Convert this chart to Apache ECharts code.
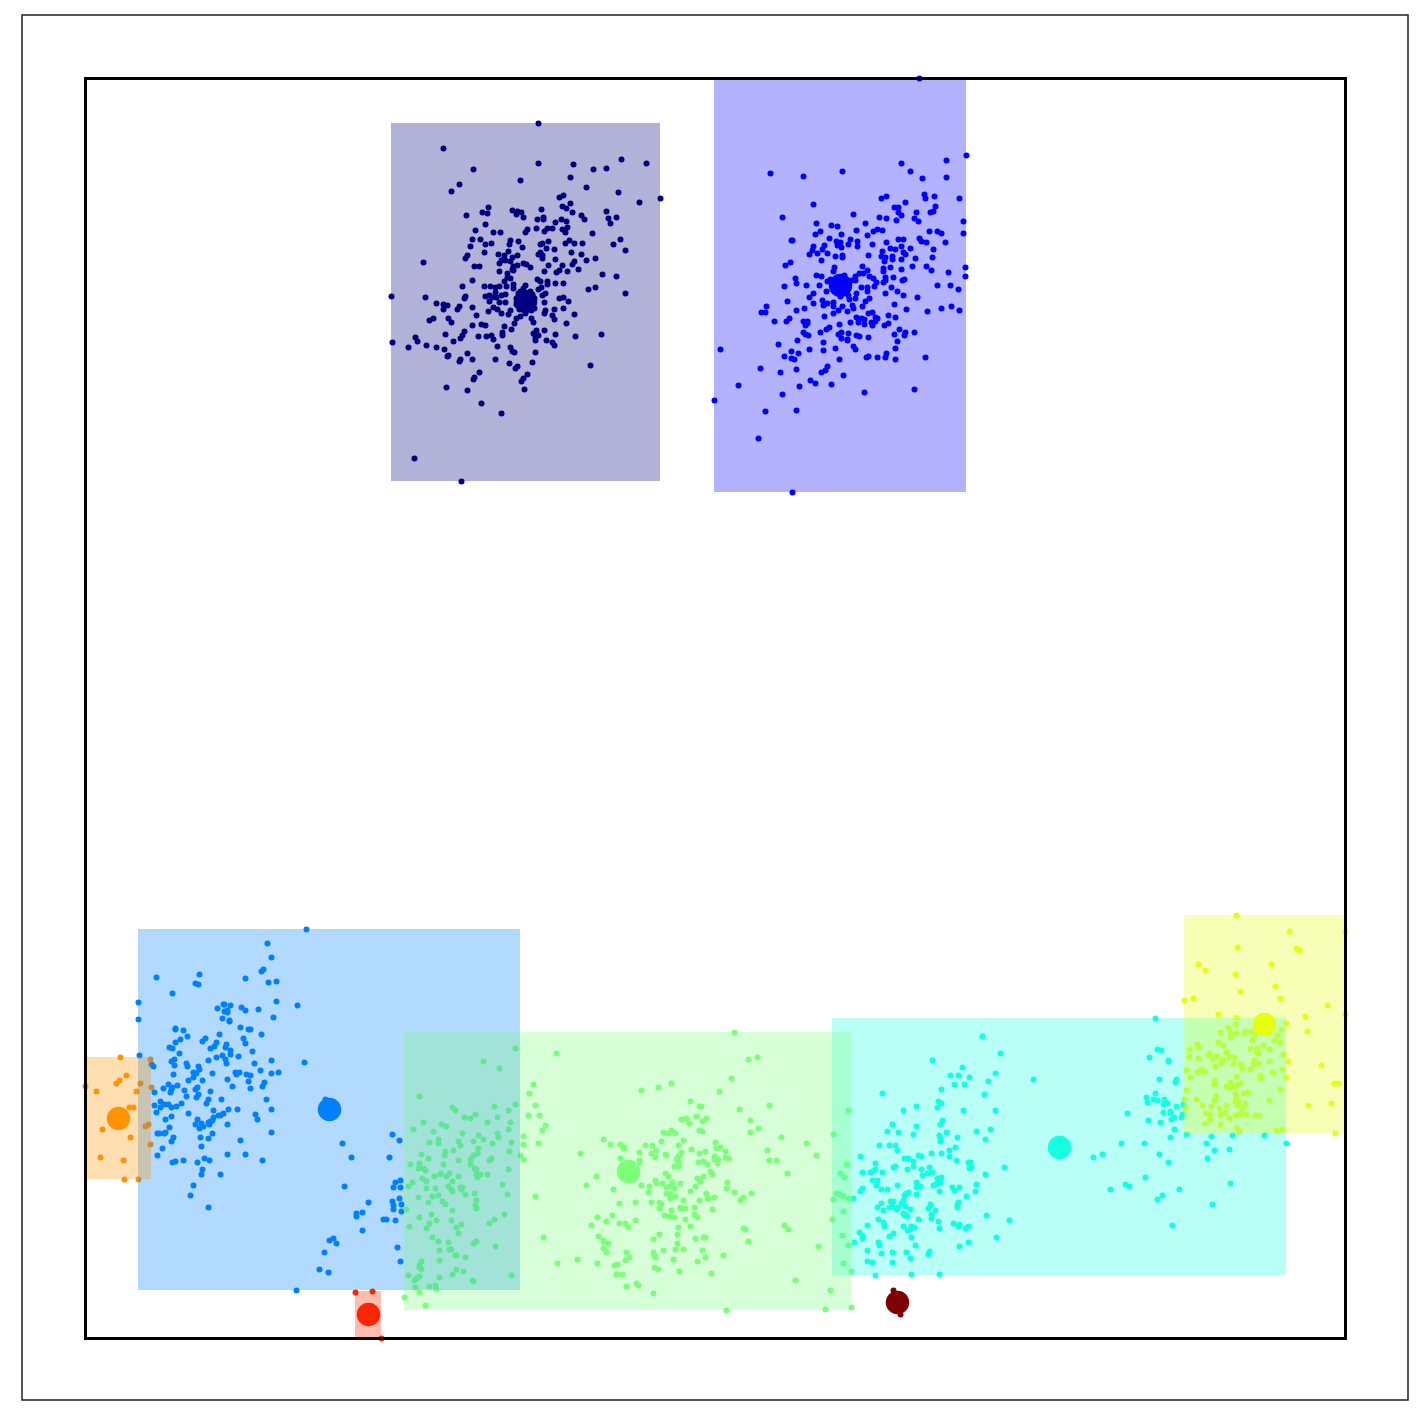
<!DOCTYPE html>
<html>
<head>
<meta charset="utf-8">
<script src="https://cdn.jsdelivr.net/npm/echarts@6/dist/echarts.min.js"></script>
<style>
  html, body { margin: 0; background: #fff; }
  #main { width: 1423px; height: 1423px; }
</style>
</head>
<body>
<div id="main"></div>
<script>
// values, the axes have no ticks so units are the picture's own
const navyPoints = [[538,123],[443,148],[473,169],[538,163],[573,164],[593,169],[606,168],[621,159],[646,163],[520,180],[570,177],[459,184],[451,191],[586,187],[618,192],[660,198],[639,202],[559,197],[563,195],[570,203],[562,206],[566,208],[572,212],[541,209],[488,207],[482,212],[487,213],[466,215],[512,210],[517,211],[521,212],[516,214],[523,217],[537,219],[543,217],[543,219],[606,211],[581,215],[584,219],[608,218],[616,217],[610,223],[561,219],[566,221],[555,222],[485,224],[567,227],[562,229],[565,232],[536,228],[547,228],[552,228],[544,231],[527,229],[525,232],[475,230],[493,232],[500,232],[592,233],[472,239],[480,239],[510,240],[518,241],[569,240],[620,239],[485,244],[491,243],[509,244],[540,244],[542,243],[548,241],[565,243],[574,243],[582,243],[613,244],[470,246],[522,247],[546,248],[554,249],[625,250],[484,252],[508,251],[498,254],[504,255],[517,255],[540,252],[538,254],[542,255],[571,252],[581,254],[467,255],[465,258],[512,257],[503,259],[501,260],[505,260],[499,263],[510,261],[542,258],[555,259],[586,260],[595,258],[423,262],[474,266],[479,266],[523,263],[526,264],[530,267],[517,265],[513,266],[512,269],[548,265],[562,265],[574,261],[572,264],[578,269],[499,271],[507,273],[513,270],[544,271],[556,272],[559,270],[567,271],[602,274],[616,276],[507,277],[510,278],[472,280],[504,281],[537,279],[540,281],[547,281],[555,283],[563,283],[547,284],[462,286],[484,286],[490,286],[495,287],[499,286],[506,286],[513,284],[513,288],[541,287],[538,289],[588,289],[595,287],[625,293],[495,292],[505,294],[485,296],[489,295],[492,297],[496,297],[501,295],[545,293],[542,295],[559,298],[563,297],[568,301],[391,296],[425,297],[465,296],[464,298],[436,303],[443,304],[447,305],[443,309],[459,306],[457,309],[472,307],[489,301],[499,302],[505,302],[544,302],[493,307],[497,309],[488,311],[501,313],[510,310],[508,314],[554,309],[563,308],[545,310],[544,313],[552,315],[554,319],[574,314],[476,315],[433,318],[429,320],[448,318],[451,322],[516,318],[520,316],[531,318],[533,322],[514,323],[566,323],[472,325],[481,324],[485,325],[504,326],[511,329],[536,330],[544,330],[464,331],[445,334],[462,335],[460,338],[478,336],[486,336],[491,335],[493,339],[502,332],[502,335],[533,333],[538,335],[535,337],[535,340],[555,334],[575,336],[601,334],[415,337],[417,341],[392,342],[453,341],[546,340],[552,342],[554,345],[408,347],[426,345],[436,347],[444,349],[497,346],[510,347],[512,351],[514,352],[535,352],[448,355],[447,356],[467,353],[460,359],[459,361],[472,359],[495,359],[532,362],[509,363],[517,366],[515,368],[590,365],[479,372],[474,377],[473,379],[527,374],[523,378],[521,381],[446,387],[467,390],[524,389],[481,403],[501,413],[414,458],[461,481],[523,288],[518,293],[532,294],[516,304],[534,308],[525,310],[520,291],[530,291],[516,298],[534,298],[519,309],[531,310],[525,285],[525,313]];
const bluePoints = [[919,78],[966,155],[946,160],[946,177],[901,163],[910,171],[922,178],[770,173],[803,176],[842,171],[924,194],[925,198],[934,196],[959,198],[881,198],[886,196],[905,202],[813,204],[894,207],[898,207],[935,206],[933,211],[930,212],[916,212],[898,212],[901,215],[853,214],[782,217],[879,217],[886,218],[914,218],[918,221],[896,220],[963,221],[816,223],[831,225],[837,226],[865,223],[820,231],[815,234],[841,234],[856,230],[877,229],[873,231],[882,230],[867,235],[929,231],[937,231],[941,233],[963,233],[829,238],[898,239],[903,239],[919,238],[921,241],[926,242],[945,242],[791,240],[792,240],[836,241],[840,242],[837,245],[841,247],[850,239],[848,244],[857,241],[857,246],[872,244],[886,242],[901,246],[813,246],[824,245],[822,249],[812,250],[809,254],[817,253],[827,253],[890,248],[895,249],[910,248],[933,249],[882,251],[903,252],[905,254],[835,256],[842,255],[842,257],[868,255],[881,256],[885,257],[884,261],[892,256],[892,259],[901,259],[915,258],[932,257],[821,260],[790,262],[785,265],[834,267],[862,266],[867,270],[890,267],[883,268],[883,271],[901,269],[912,266],[926,266],[931,270],[965,267],[948,272],[965,276],[833,271],[859,273],[863,273],[855,276],[855,280],[816,275],[821,276],[844,275],[869,276],[873,278],[876,282],[885,277],[885,280],[883,282],[893,277],[902,280],[904,279],[795,278],[796,283],[784,286],[806,285],[819,285],[827,281],[937,285],[950,285],[958,289],[891,287],[861,287],[867,287],[874,286],[867,291],[897,291],[903,295],[917,297],[885,293],[826,291],[813,293],[809,297],[787,301],[856,293],[855,298],[849,299],[848,295],[869,298],[865,301],[862,306],[822,300],[827,303],[823,305],[833,302],[833,306],[813,303],[852,305],[853,308],[842,306],[838,310],[847,311],[833,313],[824,316],[804,308],[796,310],[766,306],[761,312],[765,312],[894,304],[906,309],[927,311],[941,308],[951,306],[959,310],[868,313],[872,312],[888,315],[895,317],[856,317],[861,318],[864,319],[858,322],[864,324],[850,322],[839,324],[875,317],[877,318],[875,321],[871,322],[872,325],[884,325],[888,323],[899,329],[905,332],[904,335],[914,332],[894,334],[774,321],[786,321],[789,318],[803,321],[807,321],[805,325],[807,323],[829,327],[826,329],[820,332],[803,332],[805,334],[808,335],[841,332],[838,334],[848,333],[841,338],[847,339],[847,340],[856,335],[859,336],[868,337],[797,340],[823,342],[897,341],[778,344],[853,346],[855,349],[835,348],[809,349],[823,350],[895,348],[720,349],[791,351],[798,353],[784,356],[791,358],[794,359],[839,359],[886,353],[885,357],[877,357],[868,356],[866,357],[895,359],[925,357],[760,368],[780,372],[796,369],[827,366],[825,370],[821,372],[843,375],[738,385],[810,380],[815,383],[799,386],[831,384],[782,394],[864,392],[914,389],[714,400],[765,411],[796,410],[758,438],[792,492],[840,296],[830,279],[851,280]];
const azurePoints = [[306,929],[267,943],[271,957],[263,969],[261,971],[156,977],[199,974],[195,983],[198,984],[245,978],[268,982],[276,981],[172,993],[138,1002],[138,1019],[276,1001],[297,1005],[217,1008],[223,1004],[224,1004],[230,1005],[241,1007],[245,1010],[258,1009],[224,1011],[227,1010],[227,1012],[273,1017],[222,1018],[229,1020],[229,1021],[240,1027],[248,1029],[250,1029],[261,1034],[175,1028],[175,1029],[183,1030],[187,1036],[219,1034],[180,1039],[175,1042],[205,1038],[202,1041],[243,1038],[245,1043],[216,1042],[214,1046],[210,1048],[226,1044],[225,1047],[169,1047],[172,1048],[230,1050],[252,1051],[179,1053],[139,1055],[222,1055],[230,1054],[216,1057],[238,1056],[208,1060],[225,1059],[226,1063],[174,1059],[171,1061],[151,1064],[153,1066],[174,1065],[186,1063],[187,1066],[198,1066],[254,1063],[271,1060],[304,1062],[199,1069],[193,1072],[196,1073],[193,1077],[173,1074],[212,1073],[235,1072],[239,1072],[236,1074],[246,1074],[250,1075],[260,1070],[271,1073],[278,1072],[188,1080],[202,1080],[227,1079],[248,1081],[264,1082],[262,1086],[232,1086],[250,1088],[168,1084],[177,1085],[172,1087],[163,1088],[171,1089],[170,1092],[154,1092],[184,1090],[197,1087],[195,1089],[210,1091],[186,1096],[198,1094],[196,1097],[208,1099],[206,1103],[221,1099],[266,1099],[160,1101],[154,1105],[160,1107],[164,1104],[168,1104],[171,1107],[176,1106],[181,1103],[156,1112],[188,1113],[213,1110],[228,1109],[237,1109],[271,1109],[171,1116],[165,1119],[223,1113],[220,1115],[218,1115],[213,1117],[212,1120],[255,1114],[257,1119],[197,1119],[195,1124],[201,1123],[199,1128],[203,1126],[208,1122],[210,1121],[209,1124],[227,1124],[169,1127],[157,1133],[159,1133],[164,1133],[165,1132],[212,1133],[271,1132],[173,1137],[171,1141],[200,1137],[208,1138],[240,1140],[201,1146],[162,1148],[157,1155],[227,1154],[245,1154],[183,1160],[172,1162],[175,1161],[197,1162],[204,1158],[209,1160],[262,1160],[202,1169],[201,1174],[220,1174],[193,1185],[190,1195],[208,1207],[325,1099],[392,1134],[399,1140],[342,1143],[351,1157],[389,1157],[400,1180],[395,1182],[400,1187],[393,1187],[344,1186],[399,1198],[368,1202],[392,1201],[393,1205],[401,1204],[393,1209],[401,1211],[356,1213],[356,1216],[362,1212],[383,1219],[386,1219],[395,1220],[362,1230],[333,1238],[329,1240],[336,1243],[324,1252],[397,1247],[400,1261],[319,1269],[328,1272],[296,1290]];
const cyanPoints = [[982,1036],[1000,1053],[932,1060],[962,1067],[950,1075],[958,1075],[969,1077],[995,1073],[988,1081],[954,1084],[964,1084],[941,1089],[984,1094],[882,1093],[938,1101],[941,1103],[937,1107],[916,1106],[903,1110],[963,1110],[995,1110],[942,1120],[940,1124],[892,1124],[916,1126],[887,1131],[898,1132],[913,1134],[946,1132],[976,1131],[990,1129],[939,1135],[940,1138],[940,1141],[957,1137],[985,1139],[879,1145],[889,1145],[895,1145],[897,1150],[955,1147],[949,1150],[949,1156],[931,1153],[941,1153],[918,1155],[921,1156],[860,1156],[904,1158],[908,1158],[913,1161],[956,1160],[968,1162],[970,1162],[875,1163],[913,1166],[893,1167],[895,1166],[929,1167],[969,1168],[971,1167],[1004,1167],[862,1172],[870,1172],[872,1171],[875,1169],[882,1172],[907,1169],[921,1169],[932,1172],[927,1173],[922,1175],[985,1174],[937,1178],[941,1177],[872,1180],[877,1180],[916,1182],[940,1182],[937,1183],[876,1185],[897,1185],[920,1186],[916,1187],[933,1185],[935,1184],[976,1184],[952,1187],[954,1190],[959,1187],[975,1191],[862,1188],[860,1191],[881,1189],[887,1189],[939,1191],[908,1192],[906,1193],[904,1195],[916,1194],[966,1196],[853,1198],[903,1200],[890,1201],[893,1201],[881,1203],[901,1203],[930,1204],[958,1202],[957,1204],[957,1207],[877,1207],[889,1207],[892,1206],[898,1207],[896,1209],[905,1206],[910,1209],[883,1210],[928,1208],[935,1210],[903,1213],[905,1214],[904,1215],[907,1216],[931,1214],[931,1218],[986,1215],[1009,1220],[878,1219],[918,1219],[938,1221],[883,1222],[884,1226],[867,1225],[903,1226],[911,1226],[914,1227],[910,1229],[907,1230],[939,1228],[953,1223],[959,1224],[958,1226],[965,1228],[968,1226],[859,1232],[862,1235],[862,1238],[893,1233],[889,1236],[911,1237],[996,1237],[854,1242],[878,1242],[879,1245],[915,1245],[968,1242],[959,1246],[867,1250],[881,1253],[892,1252],[906,1252],[929,1251],[928,1254],[910,1258],[867,1261],[872,1262],[892,1262],[875,1275],[911,1274],[939,1274],[1155,1018],[1157,1049],[1161,1050],[1149,1057],[1168,1060],[1168,1061],[1033,1079],[1159,1079],[1176,1079],[1175,1082],[1155,1093],[1146,1097],[1147,1102],[1153,1099],[1157,1100],[1164,1099],[1167,1103],[1163,1104],[1176,1106],[1183,1104],[1127,1113],[1163,1112],[1170,1111],[1170,1113],[1174,1117],[1171,1119],[1182,1114],[1181,1117],[1148,1120],[1160,1122],[1174,1129],[1170,1137],[1186,1134],[1211,1136],[1232,1135],[1264,1135],[1121,1143],[1144,1143],[1206,1143],[1286,1143],[1214,1150],[1229,1149],[1093,1157],[1102,1154],[1159,1154],[1168,1162],[1207,1158],[1145,1177],[1125,1184],[1129,1186],[1110,1189],[1179,1189],[1230,1183],[1162,1195],[1157,1199],[1212,1204],[1172,1225]];
const greenPoints = [[515,1048],[483,1061],[499,1068],[533,1084],[529,1093],[419,1096],[535,1105],[515,1104],[452,1107],[455,1110],[494,1106],[508,1110],[528,1115],[539,1115],[464,1117],[470,1118],[475,1114],[497,1117],[423,1122],[487,1122],[510,1122],[545,1125],[441,1124],[446,1126],[413,1129],[433,1131],[508,1129],[542,1130],[462,1133],[478,1135],[497,1133],[498,1137],[523,1136],[483,1139],[438,1139],[429,1142],[438,1143],[458,1141],[460,1145],[473,1141],[492,1143],[511,1142],[523,1144],[538,1143],[478,1148],[445,1151],[453,1150],[509,1151],[421,1154],[444,1155],[473,1155],[477,1153],[428,1158],[470,1159],[458,1160],[489,1160],[491,1158],[520,1155],[523,1159],[419,1163],[410,1164],[443,1164],[470,1164],[418,1168],[423,1168],[425,1170],[474,1168],[476,1169],[508,1169],[440,1173],[449,1173],[440,1174],[434,1176],[446,1176],[458,1176],[476,1174],[480,1174],[487,1174],[477,1177],[422,1178],[426,1181],[452,1181],[412,1182],[408,1186],[502,1184],[448,1186],[460,1187],[462,1187],[426,1188],[435,1188],[451,1189],[452,1191],[461,1189],[465,1194],[474,1193],[507,1194],[438,1195],[432,1196],[418,1197],[535,1196],[476,1200],[428,1202],[442,1201],[445,1204],[475,1205],[476,1208],[406,1209],[452,1210],[431,1214],[504,1214],[419,1217],[436,1220],[451,1220],[494,1219],[429,1223],[461,1224],[489,1223],[409,1226],[426,1228],[456,1227],[458,1233],[432,1237],[543,1237],[438,1241],[448,1242],[476,1241],[473,1243],[495,1246],[439,1250],[449,1249],[451,1249],[455,1255],[456,1255],[465,1257],[421,1261],[439,1260],[419,1265],[419,1267],[421,1269],[456,1269],[463,1271],[452,1274],[408,1275],[419,1276],[416,1278],[414,1280],[439,1277],[511,1275],[472,1280],[473,1281],[415,1287],[429,1286],[435,1285],[436,1289],[419,1292],[404,1297],[425,1305],[734,1032],[556,1053],[748,1059],[757,1057],[731,1078],[671,1083],[658,1087],[641,1090],[719,1091],[690,1101],[699,1106],[701,1106],[739,1109],[769,1105],[848,1110],[696,1116],[681,1119],[686,1118],[689,1123],[702,1121],[706,1118],[750,1120],[758,1128],[750,1132],[699,1130],[702,1131],[663,1132],[668,1133],[671,1130],[675,1133],[833,1134],[781,1137],[603,1139],[610,1144],[620,1144],[624,1147],[623,1148],[645,1145],[652,1145],[661,1141],[678,1145],[683,1140],[715,1142],[716,1148],[720,1147],[725,1151],[806,1143],[580,1153],[639,1152],[651,1153],[656,1150],[665,1154],[666,1155],[681,1152],[691,1149],[699,1153],[705,1151],[767,1150],[816,1155],[620,1158],[655,1157],[678,1156],[676,1159],[698,1162],[703,1161],[714,1156],[714,1159],[718,1159],[717,1163],[725,1157],[728,1158],[769,1160],[776,1160],[639,1160],[639,1162],[678,1162],[707,1164],[846,1164],[674,1166],[678,1166],[665,1173],[668,1176],[710,1171],[712,1174],[787,1173],[840,1173],[844,1177],[596,1176],[703,1176],[697,1178],[700,1181],[655,1180],[656,1183],[662,1183],[672,1182],[680,1183],[727,1182],[586,1185],[641,1185],[649,1186],[666,1187],[669,1186],[674,1188],[695,1186],[726,1188],[613,1189],[648,1192],[666,1193],[670,1194],[690,1191],[734,1192],[751,1193],[706,1193],[675,1196],[670,1198],[683,1200],[699,1200],[707,1198],[708,1198],[714,1197],[740,1200],[743,1197],[836,1193],[839,1194],[843,1196],[848,1198],[833,1199],[619,1203],[635,1202],[651,1202],[659,1202],[661,1204],[659,1208],[680,1207],[680,1208],[685,1208],[694,1207],[671,1210],[712,1209],[843,1211],[664,1215],[668,1216],[670,1216],[674,1217],[694,1214],[697,1217],[612,1215],[597,1217],[606,1221],[635,1220],[685,1219],[832,1219],[591,1225],[619,1223],[625,1223],[628,1227],[678,1227],[690,1226],[784,1225],[788,1229],[743,1228],[745,1229],[598,1236],[659,1234],[677,1234],[842,1235],[653,1239],[695,1238],[703,1237],[705,1237],[748,1241],[603,1240],[604,1242],[608,1243],[677,1243],[818,1246],[848,1245],[603,1248],[606,1252],[626,1252],[663,1250],[675,1249],[683,1249],[702,1250],[653,1252],[654,1255],[655,1257],[629,1257],[625,1260],[673,1259],[705,1257],[723,1255],[697,1261],[557,1263],[577,1259],[597,1263],[614,1265],[617,1264],[843,1263],[654,1267],[658,1269],[679,1271],[851,1271],[616,1274],[622,1274],[711,1273],[795,1280],[636,1283],[638,1285],[626,1286],[830,1290],[653,1293],[726,1310],[825,1309],[851,1307],[634,1179]];
const yellowPoints = [[1236,915],[1289,931],[1345,931],[1237,947],[1296,948],[1299,950],[1198,964],[1271,964],[1205,970],[1235,974],[1275,986],[1240,991],[1280,998],[1184,1000],[1193,998],[1327,1005],[1218,1014],[1236,1017],[1305,1016],[1345,1014],[1235,1024],[1286,1023],[1228,1027],[1281,1029],[1220,1032],[1230,1032],[1236,1033],[1244,1033],[1245,1031],[1251,1031],[1254,1034],[1307,1031],[1230,1037],[1277,1035],[1252,1040],[1274,1040],[1280,1042],[1218,1042],[1223,1045],[1197,1044],[1198,1047],[1263,1045],[1250,1048],[1257,1048],[1269,1049],[1189,1049],[1226,1052],[1256,1051],[1258,1053],[1283,1054],[1209,1053],[1208,1055],[1189,1056],[1216,1056],[1198,1058],[1213,1059],[1222,1059],[1229,1057],[1234,1057],[1254,1060],[1269,1061],[1288,1061],[1233,1063],[1221,1063],[1240,1064],[1258,1063],[1253,1064],[1250,1069],[1242,1068],[1215,1066],[1321,1065],[1186,1070],[1202,1069],[1200,1070],[1197,1072],[1204,1071],[1282,1069],[1272,1072],[1190,1077],[1260,1075],[1260,1078],[1286,1077],[1236,1076],[1214,1080],[1214,1084],[1230,1082],[1240,1083],[1237,1084],[1234,1086],[1226,1086],[1229,1087],[1334,1083],[1338,1083],[1280,1089],[1186,1090],[1243,1093],[1248,1092],[1235,1093],[1216,1095],[1236,1097],[1196,1099],[1184,1099],[1214,1100],[1235,1101],[1238,1102],[1269,1100],[1245,1103],[1237,1105],[1202,1105],[1211,1106],[1226,1105],[1243,1107],[1308,1105],[1331,1103],[1185,1108],[1219,1108],[1206,1113],[1209,1114],[1220,1114],[1225,1112],[1241,1112],[1239,1114],[1235,1115],[1246,1114],[1255,1115],[1259,1115],[1210,1119],[1229,1118],[1205,1123],[1220,1124],[1236,1127],[1239,1131],[1276,1130],[1282,1129],[1335,1133]];
const orangePoints = [[120,1057],[150,1059],[126,1075],[119,1080],[116,1083],[140,1083],[85,1086],[151,1087],[96,1091],[136,1091],[129,1107],[133,1107],[102,1129],[145,1126],[148,1124],[130,1137],[150,1144],[100,1157],[123,1160],[124,1179],[138,1179]];
const redPoints = [[355,1292],[372,1291],[381,1338]];
const darkRedPoints = [[893,1290],[900,1314]];

const clusterPoints = [navyPoints, bluePoints, azurePoints, cyanPoints, greenPoints, yellowPoints, orangePoints, redPoints, darkRedPoints];
const clusterCenters = [[525,301],[840,285],[329,1109],[1059,1147],[628,1171],[1264,1024],[118,1118],[368,1314],[897,1302]];
// x0, y0, x1, y1 of the shaded box around each cluster
const clusterBoxes = [[390.5,122.5,659.5,480.5],[713.5,77.5,965.5,491.5],[137.5,928.5,519.5,1289.5],[831.5,1017.5,1285.5,1274.5],[403.5,1031.5,850.5,1309.5],[1183.5,914.5,1344.5,1132.5],[85.5,1056.5,150.5,1178.5],[354.5,1290.5,380.5,1336.5],[892.5,1290.5,899.5,1313.5]];
const clusterColors = ['#00007f', '#0000ff', '#0080ff', '#15ffe1', '#7cff79', '#e6ff11', '#ff9400', '#ff2500', '#7f0000'];
const xRange = [85, 1345];
const yRange = [78, 1338];

const chart = echarts.init(document.getElementById('main'), null, { renderer: 'canvas' });

// box edges come from the data, only the look differs between shaded boxes and the frame
function boxShape (api) {
  const a = api.coord([api.value(0), api.value(1)]);
  const b = api.coord([api.value(2), api.value(3)]);
  return { x: a[0], y: a[1], width: b[0] - a[0], height: b[1] - a[1] };
}

chart.setOption({
  animation: false,
  backgroundColor: '#fff',
  grid: { left: 85.5, top: 78.5, width: 1260, height: 1260 },
  xAxis: { type: 'value', min: xRange[0], max: xRange[1], show: false },
  yAxis: { type: 'value', min: yRange[0], max: yRange[1], inverse: true, show: false },
  // thin outer frame of the figure
  graphic: [{
    type: 'rect',
    z: 0,
    shape: { x: 22, y: 15, width: 1386, height: 1385 },
    style: { fill: 'none', stroke: '#222', lineWidth: 1.5 }
  }],
  series: [
    ...clusterPoints.map((points, i) => ({
      type: 'scatter',
      z: 2,
      clip: false,
      silent: true,
      symbolSize: 6,
      itemStyle: { color: clusterColors[i], opacity: 1 },
      data: points
    })),
    {
      type: 'custom',
      z: 3,
      clip: false,
      silent: true,
      encode: { x: [0, 2], y: [1, 3] },
      data: clusterBoxes,
      renderItem: (params, api) => ({
        type: 'rect',
        shape: boxShape(api),
        style: { fill: clusterColors[params.dataIndex], opacity: 0.3 }
      })
    },
    {
      type: 'scatter',
      z: 4,
      clip: false,
      silent: true,
      symbolSize: 23.5,
      itemStyle: { opacity: 1, color: (p) => clusterColors[p.dataIndex] },
      data: clusterCenters
    },
    {
      type: 'custom',
      z: 10,
      clip: false,
      silent: true,
      encode: { x: [0, 2], y: [1, 3] },
      data: [[xRange[0], yRange[0], xRange[1], yRange[1]]],
      renderItem: (params, api) => ({
        type: 'rect',
        shape: boxShape(api),
        style: { fill: 'none', stroke: '#000', lineWidth: 3 }
      })
    }
  ]
});
</script>
</body>
</html>
